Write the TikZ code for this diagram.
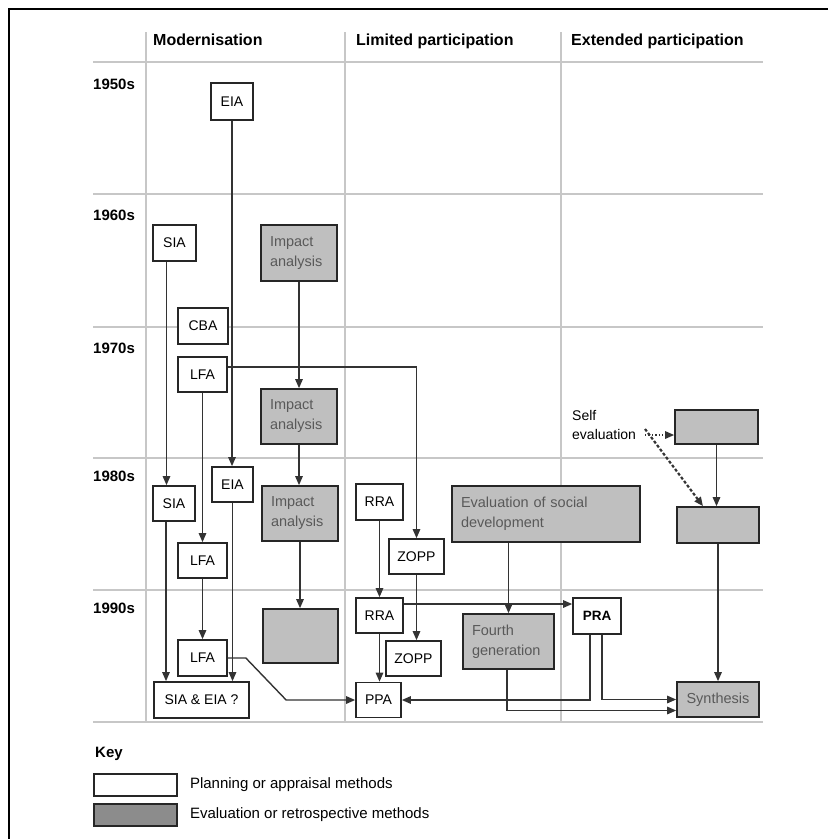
\documentclass[tikz,border=0pt]{standalone}
\usepackage{fontspec}
\setmainfont{Liberation Sans}
\usetikzlibrary{arrows.meta,positioning}

\begin{document}
\begin{tikzpicture}[x=1pt,y=-1pt,
    grid/.style={draw=black!22, line width=1.4pt},
    wbox/.style={draw=black!85, line width=1.7pt, fill=white, inner sep=0pt,
      font=\fontsize{14}{16}\selectfont},
    gbox/.style={draw=black!85, line width=1.7pt, fill=black!25, inner xsep=9pt,
      inner ysep=0pt, align=left, text=black!65, font=\fontsize{14.5}{20}\selectfont},
    link/.style={draw=black!80, line width=1.4pt, -{Triangle[length=9pt,width=7.5pt]}},
    head/.style={anchor=base west, inner sep=0pt, font=\bfseries\fontsize{16}{19}\selectfont},
    decade/.style={anchor=base west, inner sep=0pt, font=\bfseries\fontsize{15}{18}\selectfont},
    keytext/.style={right=12pt of #1, inner sep=0pt, font=\fontsize{15}{18}\selectfont}]
        \useasboundingbox (0,0) rectangle (828,839);

        % frame
        \draw[line width=2.2pt] (9,839) -- (9,9) -- (828,9);

        % grid
        \foreach \y in {62,194,327,458,590,722}
            \draw[grid] (93,\y) -- (763,\y);
        \foreach \x in {146,345,561}
            \draw[grid] (\x,32) -- (\x,722);

        % column heads
        \node[head] (hmod) at (153,45) {Modernisation};
        \node[head] (hlim) at (356,45) {Limited participation};
        \node[head] (hext) at (571,45) {Extended participation};

        % decades
        \foreach \y/\d in {89/1950s,220/1960s,353/1970s,481/1980s,613/1990s}
            \node[decade] (d\d) at (93,\y) {\d};

        % modernisation
        \node[wbox, minimum width=42, minimum height=37] (eia1) at (232,101.5) {EIA};
        \node[wbox, minimum width=43, minimum height=36] (sia1) at (174.5,243) {SIA};
        \node[wbox, minimum width=50, minimum height=36] (cba) at (203,326) {CBA};
        \node[wbox, minimum width=49, minimum height=35] (lfa1) at (202.5,374.5) {LFA};
        \node[wbox, minimum width=42, minimum height=35] (sia2) at (174,503.5) {SIA};
        \node[wbox, minimum width=41, minimum height=35] (eia2) at (232.5,484.5) {EIA};
        \node[wbox, minimum width=49, minimum height=35] (lfa2) at (202.5,560.5) {LFA};
        \node[wbox, minimum width=49, minimum height=36] (lfa3) at (202.5,658) {LFA};
        \node[wbox, minimum width=95, minimum height=36] (siaeia) at (201.5,700) {SIA \& EIA ?};
        \node[gbox, minimum width=76, minimum height=56, text width=58] (imp1) at (299,253) {Impact\\analysis};
        \node[gbox, minimum width=76, minimum height=55, text width=58] (imp2) at (299,416.5) {Impact\\analysis};
        \node[gbox, minimum width=76, minimum height=55, text width=58] (imp3) at (300,513.5) {Impact\\analysis};
        \node[gbox, minimum width=75, minimum height=54] (imp4) at (300.5,636) {};

        % limited participation
        \node[wbox, minimum width=47, minimum height=36] (rra1) at (379.5,502) {RRA};
        \node[wbox, minimum width=55, minimum height=35] (zopp1) at (416.5,556.5) {ZOPP};
        \node[wbox, minimum width=47, minimum height=35] (rra2) at (379.5,615.5) {RRA};
        \node[wbox, minimum width=55, minimum height=35] (zopp2) at (413.5,658.5) {ZOPP};
        \node[wbox, minimum width=45, minimum height=35] (ppa) at (378.5,700) {PPA};
        \node[gbox, minimum width=188, minimum height=56, text width=170] (esd) at (546,514) {Evaluation of social\\development};
        \node[gbox, minimum width=91, minimum height=55, text width=73] (fourth) at (508.5,641.5) {Fourth\\generation};

        % extended participation
        \node[wbox, minimum width=48, minimum height=36, font=\bfseries\fontsize{13.5}{16}\selectfont] (pra) at (597,616) {PRA};
        \node[gbox, minimum width=83, minimum height=34] (selfa) at (716.5,427) {};
        \node[gbox, minimum width=82, minimum height=36] (selfb) at (718,525) {};
        \node[gbox, minimum width=82, minimum height=35, text width=64, align=center] (synth) at (718,699.5) {Synthesis};
        \node[anchor=west, inner sep=0pt, align=left, font=\fontsize{14}{19}\selectfont] (selfev) at (572,425) {Self\\evaluation};
        \coordinate (sefrom) at (645,435);

        % connectors, modernisation
        \draw[link] (eia1.south) -- (eia1.south |- eia2.north);
        \draw[link] ([xshift=-8pt]sia1.south) -- ([xshift=-8pt]sia1.south |- sia2.north);
        \draw[link] ([xshift=-8pt]sia2.south) -- ([xshift=-8pt]sia2.south |- siaeia.north);
        \draw[link] (eia2.south) -- (eia2.south |- siaeia.north);
        \draw[link] (lfa1) -- (lfa2);
        \draw[link] (lfa2) -- (lfa3);
        \draw[link] (imp1.south) -- (imp1.south |- imp2.north);
        \draw[link] (imp2.south) -- (imp2.south |- imp3.north);
        \draw[link] (imp3.south) -- (imp3.south |- imp4.north);
        \draw[link] ([yshift=7.5pt]lfa1.east) -| (zopp1.north);
        \draw[link] (lfa3.east) -- ++(18,0) -- ([xshift=-69pt]ppa.west) -- (ppa.west);

        % connectors, participation
        \draw[link] (rra1) -- (rra2);
        \draw[link] (rra2.south) -- (rra2.south |- ppa.north);
        \draw[link] (zopp1.south) -- (zopp1.south |- zopp2.north);
        \draw[link] ([yshift=11.5pt]rra2.east) -- ([yshift=11.5pt]rra2.east -| pra.west);
        \draw[link] (fourth.north |- esd.south) -- (fourth.north);
        \draw[link] ([xshift=-7pt]pra.south) |- (ppa.east);
        \draw[link] ([xshift=5pt]pra.south) |- (synth.west);
        \draw[link] ([xshift=-1.5pt]fourth.south) |- ([yshift=-11pt]synth.west);
        \draw[link] (selfa.south) -- (selfa.south |- selfb.north);
        \draw[link] (selfb) -- (synth);

        % self evaluation
        \draw[link, dotted] (sefrom) -- (sefrom -| selfa.west);
        \draw[link, line width=2.2pt, dash pattern=on 3pt off 2pt] ([yshift=6pt]sefrom) -- ([xshift=-15pt]selfb.north);

        % key
        \node[anchor=base west, inner sep=0pt, font=\bfseries\fontsize{15}{18}\selectfont] (key) at (95,757) {Key};
        \node[wbox, minimum width=83, minimum height=22] (keyw) at (135.5,785) {};
        \node[gbox, minimum width=83, minimum height=22, fill=black!45] (keyg) at (135.5,815) {};
        \node[keytext=keyw] (keywt) {Planning or appraisal methods};
        \node[keytext=keyg] (keygt) {Evaluation or retrospective methods};
    \end{tikzpicture}
\end{document}
